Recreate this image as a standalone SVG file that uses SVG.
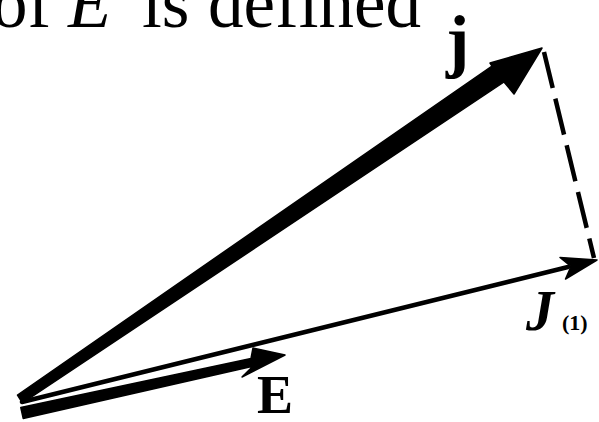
<svg xmlns="http://www.w3.org/2000/svg" width="599" height="422" viewBox="0 0 599 422">
  <style>
    .cap { font-family: "Liberation Serif", "Times New Roman", serif; font-size: 71px; fill: #000; }
    .lbl { font-family: "Liberation Serif", "Times New Roman", serif; font-weight: bold; fill: #000; }
    .ink { fill: #000; stroke: #000; stroke-linejoin: round; stroke-width: 1.5; }
    .thin { fill: none; stroke: #000; stroke-width: 4.5; stroke-linecap: round; }
    .dash { fill: none; stroke: #000; stroke-width: 4.5; stroke-dasharray: 37 11; }
  </style>
  <rect width="599" height="422" fill="#fff"/>

  <g id="caption">
    <text class="cap" y="27"><tspan x="-8">of</tspan><tspan x="68" font-style="italic">E</tspan><tspan x="142">is</tspan><tspan x="208">defined</tspan></text>
  </g>

  <g id="connectors">
    <!-- dashed closing line -->
    <path class="dash" d="M544,52 L594,258"/>
    <!-- vector j (thick) -->
    <path class="ink" d="M17.5,395 L492,66 L490,63 L542,48 L514,94 L504,82 L22.5,403 Z"/>
    <!-- vector j(1) (thin) -->
    <path class="thin" d="M22,402 L568,267"/>
    <path class="ink" d="M597,260 L560,257.5 L571,266.5 L565.5,279 Z"/>
    <!-- vector E -->
    <path class="ink" d="M20.8,407.6 L251,358.4 L253,348 L285,355 L242,377 L252.9,366.2 L23.2,418.4 Z"/>
  </g>

  <g id="label-j">
    <text class="lbl" x="446" y="64" font-size="70">j</text>
  </g>
  <g id="label-j1">
    <text class="lbl" x="526" y="330" font-size="56" font-style="italic">J</text>
    <text class="lbl" x="562" y="330" font-size="22">(1)</text>
  </g>
  <g id="label-E">
    <text class="lbl" x="257" y="413" font-size="54">E</text>
  </g>
</svg>
